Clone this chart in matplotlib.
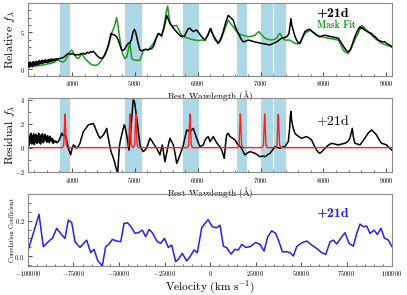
import numpy as np
import matplotlib
matplotlib.use("Agg")
import matplotlib.pyplot as plt
from matplotlib.ticker import MultipleLocator

plt.rcParams['font.family'] = 'cmr10'
plt.rcParams['mathtext.fontset'] = 'cm'
plt.rcParams['axes.formatter.use_mathtext'] = True
plt.rcParams['axes.unicode_minus'] = True

# ---------------- data ----------------
# masked bands (Angstrom)
band_lo = [3810, 4843, 5770, 6623, 7006, 7212]
band_hi = [3968, 5108, 6024, 6782, 7192, 7398]

# observed spectrum (panel 1)
spec_wave = [3300, 3312, 3324, 3336, 3348, 3360, 3372, 3384, 3396, 3408, 3420, 3432, 3444, 3456,
             3468, 3480, 3492, 3504, 3516, 3528, 3540, 3552, 3564, 3576, 3588, 3600, 3612, 3624,
             3636, 3648, 3660, 3672, 3684, 3696, 3708, 3720, 3735, 3750, 3765, 3780, 3795,
             3810, 3850, 3880, 3910, 3942, 3975, 4010, 4048, 4080, 4110, 4140, 4180, 4210, 4240,
             4270, 4300, 4320, 4339, 4360, 4393, 4430, 4473, 4510, 4552, 4585, 4620, 4650, 4684,
             4710, 4736, 4765, 4790, 4815, 4843, 4870, 4895, 4920, 4945, 4970, 4991, 5010, 5029,
             5055, 5081, 5110, 5134, 5170, 5210, 5240, 5267, 5300, 5340, 5373, 5400, 5426, 5460,
             5490, 5506, 5530, 5559, 5600, 5638, 5690, 5744, 5790, 5824, 5850, 5876, 5900, 5929,
             5960, 5983, 6020, 6062, 6115, 6160, 6200, 6230, 6274, 6327, 6370, 6406, 6450, 6486,
             6520, 6565, 6600, 6645, 6690, 6724, 6760, 6803, 6850, 6910, 6960, 7016, 7080, 7148,
             7200, 7255, 7300, 7334, 7380, 7414, 7450, 7470, 7482, 7495, 7519, 7545, 7572, 7600,
             7625, 7660, 7705, 7750, 7784, 7820, 7864, 7900, 7943, 7985, 8023, 8080, 8129, 8180,
             8235, 8290, 8341, 8370, 8394, 8420, 8447, 8475, 8500, 8540, 8580, 8600, 8620, 8640,
             8659, 8685, 8710, 8740, 8765, 8790, 8820, 8845, 8871, 8900, 8940, 8970, 9004, 9030,
             9050, 9070, 9084]
spec_flux = [0.4, 0.9, 0.3, 1.0, 0.5, 0.8, 0.35, 1.05, 0.6, 0.95, 0.5, 1.1, 0.7, 1.0,
             0.6, 1.2, 0.8, 1.1, 0.75, 1.25, 0.85, 1.15, 0.9, 1.3, 0.95, 1.2, 0.9, 1.35,
             1.0, 1.3, 1.05, 1.4, 1.1, 1.35, 1.15, 1.4, 1.2, 1.45, 1.3, 1.45, 1.4,
             1.5, 1.55, 1.7, 1.95, 2.15, 2.05, 2.1, 1.9, 2.0, 1.95, 2.1, 2.15, 2.05, 2.3,
             2.2, 2.4, 2.3, 2.45, 2.25, 1.9, 1.6, 1.45, 1.8, 2.6, 3.5, 4.85, 4.7, 4.6,
             4.4, 3.95, 3.2, 2.6, 2.55, 2.8, 3.2, 3.5, 3.6, 4.0, 5.0, 5.4, 5.1, 4.4,
             3.4, 2.6, 2.5, 2.6, 2.7, 2.65, 2.75, 2.8, 3.2, 4.2, 4.85, 4.7, 4.6, 5.5,
             6.6, 7.3, 6.8, 6.2, 5.7, 5.3, 4.8, 4.4, 4.5, 5.1, 5.5, 5.55, 5.3, 5.1,
             5.25, 5.3, 4.9, 4.4, 3.95, 4.6, 5.5, 4.9, 4.2, 3.5, 4.2, 5.1, 6.5, 7.3,
             7.0, 6.65, 5.7, 4.85, 4.1, 3.7, 3.8, 3.95, 3.85, 3.7, 3.6, 3.5, 3.4, 3.3,
             3.5, 3.7, 4.0, 4.2, 4.3, 4.4, 4.8, 6.0, 6.85, 6.0, 5.3, 4.5, 3.95, 3.6,
             3.5, 4.2, 5.1, 5.35, 5.4, 5.1, 4.85, 4.6, 4.4, 4.55, 4.6, 4.5, 4.4, 4.3,
             4.2, 3.5, 2.8, 2.5, 2.35, 2.6, 3.05, 3.8, 4.4, 5.2, 5.75, 5.5, 5.65, 5.4,
             5.3, 5.15, 5.05, 4.9, 4.85, 4.6, 4.4, 4.2, 3.95, 3.85, 3.7, 3.75, 3.5, 3.4,
             3.25, 3.2, 3.05]

# mask fit (panel 1)
fit_wave = [3300, 3400, 3518, 3600, 3680, 3730, 3760, 3783, 3810, 3862, 3900, 3942, 3970, 3995,
            4020, 4048, 4075, 4101, 4125, 4154, 4180, 4207, 4260, 4300, 4339, 4393, 4430, 4473,
            4525, 4578, 4610, 4631, 4655, 4674, 4690, 4711, 4730, 4748, 4770, 4790, 4815, 4843,
            4865, 4885, 4905, 4922, 4935, 4949, 4975, 5002, 5040, 5081, 5110, 5134, 5170, 5214,
            5250, 5293, 5340, 5373, 5400, 5426, 5455, 5479, 5500, 5521, 5540, 5560, 5585, 5620,
            5665, 5700, 5744, 5800, 5850, 5900, 5956, 6010, 6062, 6115, 6160, 6210, 6240, 6274,
            6327, 6370, 6406, 6450, 6486, 6520, 6565, 6600, 6645, 6690, 6724, 6760, 6803, 6850,
            6910, 6945, 6974, 7010, 7069, 7120, 7175, 7220, 7255, 7280, 7308, 7340, 7388, 7430,
            7467, 7510, 7546, 7590, 7625, 7665, 7705, 7750, 7801, 7850, 7890, 7930, 7970, 8020,
            8076, 8150, 8235, 8275, 8315, 8350, 8394, 8430, 8473, 8515, 8553, 8580, 8606, 8650,
            8712, 8765, 8818, 8870, 8924, 8990, 9040, 9084]
fit_flux = [0.35, 0.45, 0.55, 0.7, 0.85, 1.0, 1.3, 1.25, 1.1, 1.0, 1.3, 1.9, 2.4, 2.6,
            2.3, 1.9, 1.55, 1.45, 1.7, 2.15, 1.8, 1.45, 1.0, 0.7, 0.55, 0.55, 0.8, 1.25,
            1.9, 3.05, 4.2, 4.85, 5.4, 5.75, 6.3, 7.0, 6.0, 4.85, 3.6, 2.6, 1.9, 1.45,
            1.6, 2.15, 3.0, 3.5, 2.5, 1.45, 1.3, 1.25, 1.2, 1.25, 1.9, 2.6, 2.7, 2.6,
            3.0, 3.5, 4.3, 4.85, 4.7, 4.4, 5.5, 6.65, 7.8, 8.55, 7.3, 6.2, 5.95, 5.85,
            5.95, 5.3, 4.6, 4.35, 4.2, 4.05, 3.95, 3.9, 3.95, 3.95, 4.6, 5.55, 4.7, 3.95,
            3.5, 4.0, 4.85, 5.9, 6.65, 6.2, 5.75, 5.3, 4.85, 4.65, 4.6, 4.5, 4.4, 4.45,
            4.6, 4.9, 5.1, 4.7, 4.2, 4.05, 3.95, 4.05, 4.2, 4.6, 4.85, 4.4, 3.95, 3.95,
            3.95, 3.7, 3.5, 3.45, 3.5, 4.2, 4.85, 5.1, 5.3, 4.85, 4.6, 4.45, 4.4, 4.3,
            4.2, 4.1, 3.95, 3.3, 2.6, 2.3, 2.15, 2.6, 3.5, 4.3, 4.85, 5.5, 5.95, 5.6,
            5.1, 4.6, 4.2, 3.85, 3.5, 3.3, 3.15, 3.05]

# residual (panel 2)
res_wave = [3300, 3310, 3320, 3330, 3340, 3350, 3360, 3370, 3380, 3390, 3400, 3410, 3420, 3430,
            3440, 3450, 3460, 3470, 3480, 3490, 3500, 3510, 3520, 3530, 3540, 3550, 3560, 3570,
            3580, 3590, 3600, 3610, 3620, 3630, 3640, 3650, 3660, 3670, 3680, 3690, 3700, 3715,
            3730, 3745, 3760, 3783, 3810, 3836, 3860, 3889, 3915, 3942, 3960, 3979, 4000, 4021,
            4050, 4074, 4100, 4127, 4150, 4180, 4220, 4260, 4300, 4339, 4365, 4393, 4420, 4446,
            4470, 4499, 4525, 4552, 4570, 4589, 4605, 4620, 4640, 4658, 4678, 4695, 4712, 4727,
            4740, 4753, 4770, 4790, 4810, 4832, 4850, 4869, 4890, 4906, 4920, 4938, 4955, 4975,
            4990, 5002, 5020, 5044, 5062, 5081, 5105, 5134, 5160, 5187, 5215, 5240, 5265, 5293,
            5320, 5346, 5370, 5399, 5420, 5437, 5458, 5479, 5500, 5521, 5540, 5559, 5585, 5612,
            5640, 5665, 5690, 5718, 5745, 5771, 5800, 5824, 5850, 5876, 5900, 5929, 5955, 5983,
            6010, 6036, 6060, 6089, 6115, 6140, 6168, 6195, 6220, 6248, 6290, 6327, 6350, 6380,
            6400, 6422, 6440, 6460, 6485, 6513, 6550, 6592, 6620, 6645, 6670, 6698, 6720, 6751,
            6790, 6830, 6870, 6910, 6950, 6990, 7030, 7069, 7110, 7149, 7190, 7228, 7270, 7308,
            7350, 7387, 7415, 7440, 7460, 7472, 7482, 7495, 7520, 7545, 7573, 7610, 7652, 7690,
            7732, 7770, 7811, 7850, 7891, 7920, 7944, 7980, 8023, 8075, 8129, 8180, 8235, 8290,
            8341, 8385, 8421, 8440, 8458, 8475, 8500, 8540, 8580, 8620, 8659, 8710, 8765, 8800,
            8844, 8880, 8924, 8965, 9004, 9045, 9084]
res_flux = [0.3, 1.1, 0.2, 0.9, 0.4, 1.2, 0.3, 1.0, 0.5, 1.15, 0.25, 0.95, 0.45, 1.1,
            0.35, 1.0, 0.6, 1.2, 0.4, 0.9, 0.3, 1.05, 0.55, 1.15, 0.4, 0.95, 0.5, 1.1,
            0.6, 0.9, 0.45, 1.0, 0.55, 0.85, 0.4, 0.95, 0.6, 0.8, 0.5, 0.75, 0.35, 0.6,
            0.45, 0.55, 0.4, 0.5, 0.8, 1.2, 1.0, 1.05, 0.6, -0.05, -0.3, -0.6, -0.1, 0.22,
            0.1, -0.05, 0.1, 0.36, 0.8, 1.33, 1.6, 1.9, 1.95, 2.0, 1.7, 1.33, 1.0, 0.78,
            0.9, 1.05, 1.3, 1.6, 1.0, 0.5, 0.1, -0.33, -0.6, -0.89, -1.2, -1.58, -1.9, -2.1,
            -1.0, 0.09, 0.6, 1.05, 1.5, 1.9, 1.6, 1.05, 0.4, -0.2, 0.5, 1.6, 2.8, 3.97,
            3.85, 3.56, 2.8, 1.9, 1.0, 0.22, -0.1, -0.33, -0.2, -0.05, 0.4, 0.78, 0.6, 0.36,
            0.15, -0.05, -0.3, -0.6, -0.1, 0.22, -0.5, -1.17, -0.6, -0.05, 0.4, 0.78, 0.5, 0.22,
            -0.5, -1.3, -1.0, -0.6, -0.2, 0.22, 0.9, 1.47, 1.4, 1.33, 1.45, 1.6, 1.2, 0.78,
            0.4, 0.09, 0.15, 0.22, 0.6, 0.8, 0.92, 0.5, 0.7, 0.92, 0.5, 0.22, 0.1, -0.2,
            -0.5, -0.89, 0.2, 1.05, 1.2, 0.92, 0.8, 0.64, 0.4, 0.22, 0.1, -0.05, -0.3, -0.6,
            -0.45, -0.33, -0.4, -0.47, -0.6, -0.75, -0.7, -0.75, -0.6, -0.47, -0.2, 0.09, 0.0, -0.05,
            0.05, 0.09, 0.3, 0.5, 1.5, 2.6, 3.0, 2.2, 1.6, 1.2, 1.05, 0.9, 0.78, 0.85,
            0.92, 0.8, 0.64, 0.2, -0.2, -0.4, -0.47, -0.3, -0.05, 0.2, 0.36, 0.3, 0.22, 0.3,
            0.36, 0.5, 0.78, 1.2, 1.6, 0.9, 0.36, 0.3, 0.22, 0.5, 0.78, 1.2, 1.47, 1.3,
            1.05, 0.7, 0.36, 0.3, 0.22, 0.0, -0.2]

# He I line model (panel 2, red)
line_wave = [3300, 3849, 3869, 3879, 3889, 3899, 3909, 3929,
             4882, 4902, 4912, 4922, 4932, 4942, 4962,
             4976, 4996, 5006, 5016, 5026, 5036, 5056,
             5836, 5856, 5866, 5876, 5886, 5896, 5916,
             6638, 6658, 6668, 6678, 6688, 6698, 6718,
             7025, 7045, 7055, 7065, 7075, 7085, 7105,
             7241, 7261, 7271, 7281, 7291, 7301, 7321, 9090]
line_flux = [0, 0, 0.25, 1.6, 2.8, 1.6, 0.25, 0,
             0, 0.25, 1.6, 2.8, 1.6, 0.25, 0,
             0, 0.25, 1.6, 2.8, 1.6, 0.25, 0,
             0, 0.25, 1.6, 2.8, 1.6, 0.25, 0,
             0, 0.25, 1.6, 2.8, 1.6, 0.25, 0,
             0, 0.25, 1.6, 2.8, 1.6, 0.25, 0,
             0, 0.25, 1.6, 2.75, 1.6, 0.25, 0, 0]

# cross-correlation (panel 3)
vel = [-100000, -97100, -93950, -91580, -89740, -87910, -86630, -84230, -81480, -79670, -77840,
       -75990, -74170, -71430, -67760, -65560, -63740, -61710, -59170, -57320, -55490, -53660,
       -51260, -49060, -47250, -45220, -43400, -41200, -39010, -37180, -35330, -33500, -31680,
       -28950, -27080, -25080, -22900, -21050, -18880, -17400, -15210, -12820, -11000, -8790,
       -6970, -4560, -2740, -1000, 1280, 3690, 5500, 7330, 9190, 11550, 13750, 15560, 17430,
       19640, 22000, 25110, 27470, 29680, 31710, 33900, 36100, 37920, 39740, 42150, 43970,
       45780, 47640, 50400, 53140, 55890, 58640, 61380, 63590, 65960, 67780, 69640, 72380,
       74200, 76390, 78770, 80620, 82440, 84250, 86110, 87930, 90130, 91940, 93980, 95790,
       97990, 100000]
corr = [0.03, 0.128, 0.236, 0.053, 0.072, 0.09, 0.10, 0.157, 0.12, 0.10, 0.204,
        0.19, 0.081, 0.049, 0.09, 0.019, 0.038, -0.026, -0.056, 0.053, 0.068, 0.094,
        0.085, 0.081, 0.185, 0.188, 0.166, 0.128, 0.134, 0.147, 0.109, 0.151, 0.132,
        0.081, 0.072, 0.10, 0.049, 0.062, -0.032, -0.019, 0.015, -0.028, -0.004, 0.034,
        0.019, 0.16, 0.185, 0.206, 0.166, 0.160, 0.175, 0.056, 0.047, 0.011, 0.038, 0.034, 0.066,
        0.049, 0.053, 0.077, 0.066, 0.028, 0.109, 0.143, 0.128, 0.081, 0.024, 0.024, 0.019,
        0.0, 0.053, 0.075, 0.085, 0.062, 0.043, 0.019, 0.009, 0.081, 0.09, 0.068, 0.109,
        0.132, 0.072, 0.056, 0.128, 0.181, 0.166, 0.17, 0.128, 0.147, 0.122, 0.157, 0.102,
        0.09, 0.053]

# ---------------- figure ----------------
W, H = 407, 295
fig = plt.figure(figsize=(W / 100, H / 100), dpi=100)

def rect(x0, y0, x1, y1):
    return [x0 / W, 1 - y1 / H, (x1 - x0) / W, (y1 - y0) / H]

ax1 = fig.add_axes(rect(28, 2.7, 392, 76))
ax2 = fig.add_axes(rect(28, 98.3, 392, 172.3))
ax3 = fig.add_axes(rect(28, 194.3, 392, 265.7))
for ax in (ax1, ax2, ax3):
    ax.set_facecolor('none')

green = '#1f9a1f'
spine_col = '#8a8a8a'
tick_fs = 4.7

def style(ax):
    for s in ax.spines.values():
        s.set_color(spine_col)
        s.set_linewidth(0.8)
    ax.tick_params(which='both', direction='in', top=False, right=False,
                   labelsize=tick_fs, color='#333333', pad=2.5)
    ax.tick_params(which='major', length=3.2, width=0.6)
    ax.tick_params(which='minor', length=1.8, width=0.5)

for ax in (ax1, ax2):
    for lo, hi in zip(band_lo, band_hi):
        ax.axvspan(lo, hi, color='#add8e6', lw=0, zorder=0)
    ax.set_xlim(3300, 9090)
    ax.xaxis.set_major_locator(MultipleLocator(1000))
    ax.xaxis.set_minor_locator(MultipleLocator(200))
    ax.set_xlabel(r'Rest Wavelength ($\mathrm{\AA}$)', fontsize=6.6)
    style(ax)

ax1.xaxis.set_label_coords(0.5, -0.158)
ax2.xaxis.set_label_coords(0.5, -0.165)

ax1.plot(spec_wave, spec_flux, color='k', lw=1.1, zorder=3)
ax1.plot(fit_wave, fit_flux, color=green, lw=1.1, zorder=2)
ax1.set_ylim(-0.9, 9.0)
ax1.yaxis.set_major_locator(MultipleLocator(5))
ax1.yaxis.set_minor_locator(MultipleLocator(1))
ax1.set_ylabel(r'Relative $f_\lambda$', fontsize=8.5)
ax1.yaxis.set_label_coords(-0.029, 0.5)
ax1.text(0.793, 0.86, '+21d', transform=ax1.transAxes, fontsize=10,
         family='cmb10', va='center', ha='left')
ax1.text(0.793, 0.696, 'Mask Fit', transform=ax1.transAxes, fontsize=7,
         family='cmb10', color=green, va='center', ha='left')

ax2.plot(res_wave, res_flux, color='k', lw=1.1, zorder=2)
ax2.plot(line_wave, line_flux, color='#ff2020', lw=1.0, zorder=3)
ax2.set_ylim(-2.05, 4.1)
ax2.yaxis.set_major_locator(MultipleLocator(2))
ax2.yaxis.set_minor_locator(MultipleLocator(1))
ax2.set_ylabel(r'Residual $f_\lambda$', fontsize=8.5)
ax2.yaxis.set_label_coords(-0.029, 0.5)
ax2.text(0.793, 0.68, '+21d', transform=ax2.transAxes, fontsize=10,
         va='center', ha='left')

ax3.plot(vel, corr, color='#1f1fff', lw=1.1)
ax3.set_xlim(-100000, 100000)
ax3.set_ylim(-0.055, 0.35)
ax3.xaxis.set_major_locator(MultipleLocator(25000))
ax3.xaxis.set_minor_locator(MultipleLocator(5000))
ax3.yaxis.set_major_locator(MultipleLocator(0.2))
ax3.yaxis.set_minor_locator(MultipleLocator(0.05))
ax3.yaxis.set_major_formatter(matplotlib.ticker.FormatStrFormatter(r'$%.1f$'))
style(ax3)
ax3.set_xlabel(r'Velocity (km s$^{-1}$)', fontsize=8.2)
ax3.xaxis.set_label_coords(0.5, -0.19)
ax3.set_ylabel('Correlation Coefficient', fontsize=4.6)
ax3.yaxis.set_label_coords(-0.036, 0.5)
ax3.text(0.793, 0.738, '+21d', transform=ax3.transAxes, fontsize=10,
         family='cmb10', color='#1f1fff', va='center', ha='left')

fig.savefig('out.png', dpi=100)
